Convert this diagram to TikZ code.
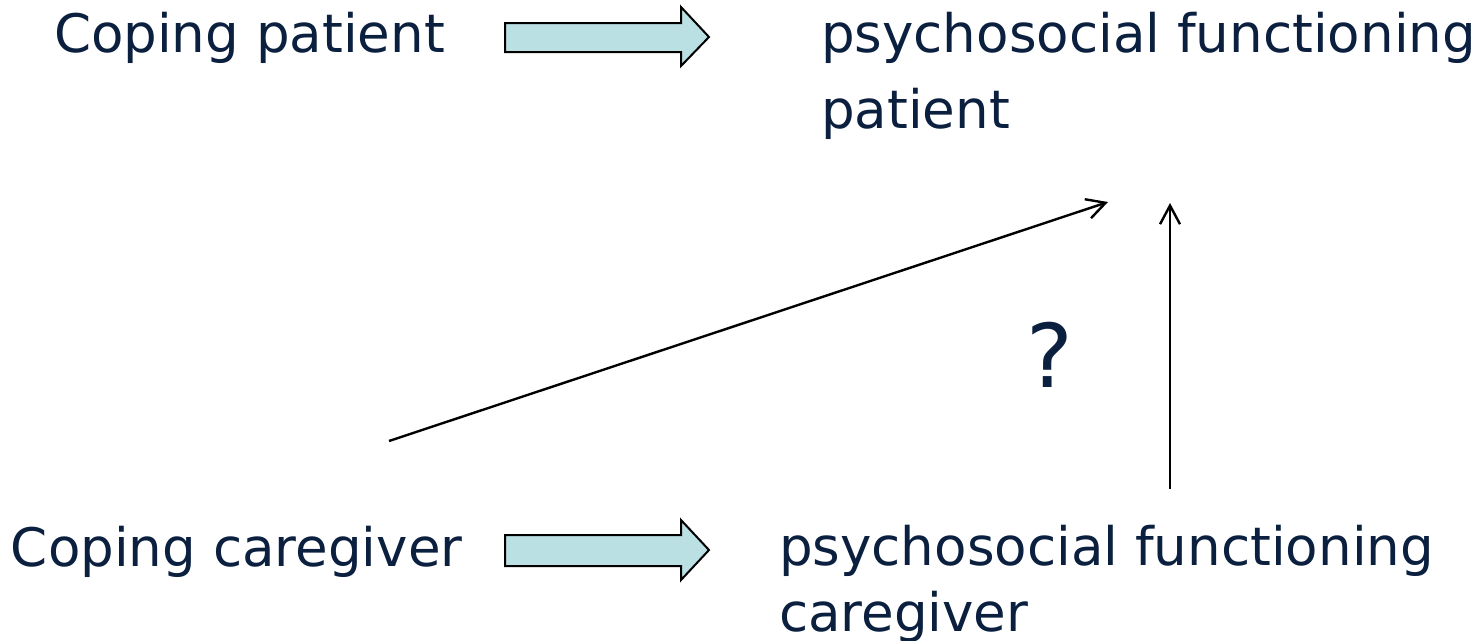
\documentclass[tikz,border=0pt]{standalone}
\usepackage{fontspec}
\setmainfont{DejaVu Sans}
\usetikzlibrary{arrows.meta}
\definecolor{txtnavy}{HTML}{0B1F3F}
\definecolor{blockfill}{HTML}{BBE0E3}
\begin{document}
\begin{tikzpicture}[x=0.75pt,y=-0.75pt,
  lbl/.style={anchor=base west,inner sep=0pt,outer sep=0pt,text=txtnavy,align=left},
  blockarrow/.style={draw=black,line width=1.5pt,fill=blockfill,line join=miter},
  linkarrow/.style={draw=black,line width=1.8pt,-{Straight Barb[length=14pt,width=15pt,line width=1.8pt]}}]
\useasboundingbox (0,0) rectangle (1477,640);
% text nodes (base anchor = baseline of last line)
\node[lbl,font=\fontsize{39.8}{57}\selectfont] (cp) at (54,52) {Coping patient};
\node[lbl,font=\fontsize{39.8}{57}\selectfont] (pfp) at (821,128) {psychosocial functioning\\patient};
\node[lbl,font=\fontsize{39.8}{49}\selectfont] (cc) at (11,566) {Coping caregiver};
\node[lbl,font=\fontsize{39.8}{49}\selectfont] (pfc) at (779,631) {psychosocial functioning\\caregiver};
\node[lbl,font=\fontsize{66}{70}\selectfont] (q) at (1026,387) {?};
% block arrows
\draw[blockarrow] (505,23) -- (681,23) -- (681,7) -- (709,37) -- (681,66) -- (681,52) -- (505,52) -- cycle;
\draw[blockarrow] (505,535) -- (681,535) -- (681,520) -- (709,550) -- (681,580) -- (681,566) -- (505,566) -- cycle;
% connectors
\coordinate (dstart) at (389,441);
\coordinate (dend) at (1108,202);
\coordinate (vstart) at (1170,489);
\coordinate (vend) at (1170,203);
\draw[linkarrow] (dstart) -- (dend);
\draw[linkarrow] (vstart) -- (vend);
\end{tikzpicture}
\end{document}
